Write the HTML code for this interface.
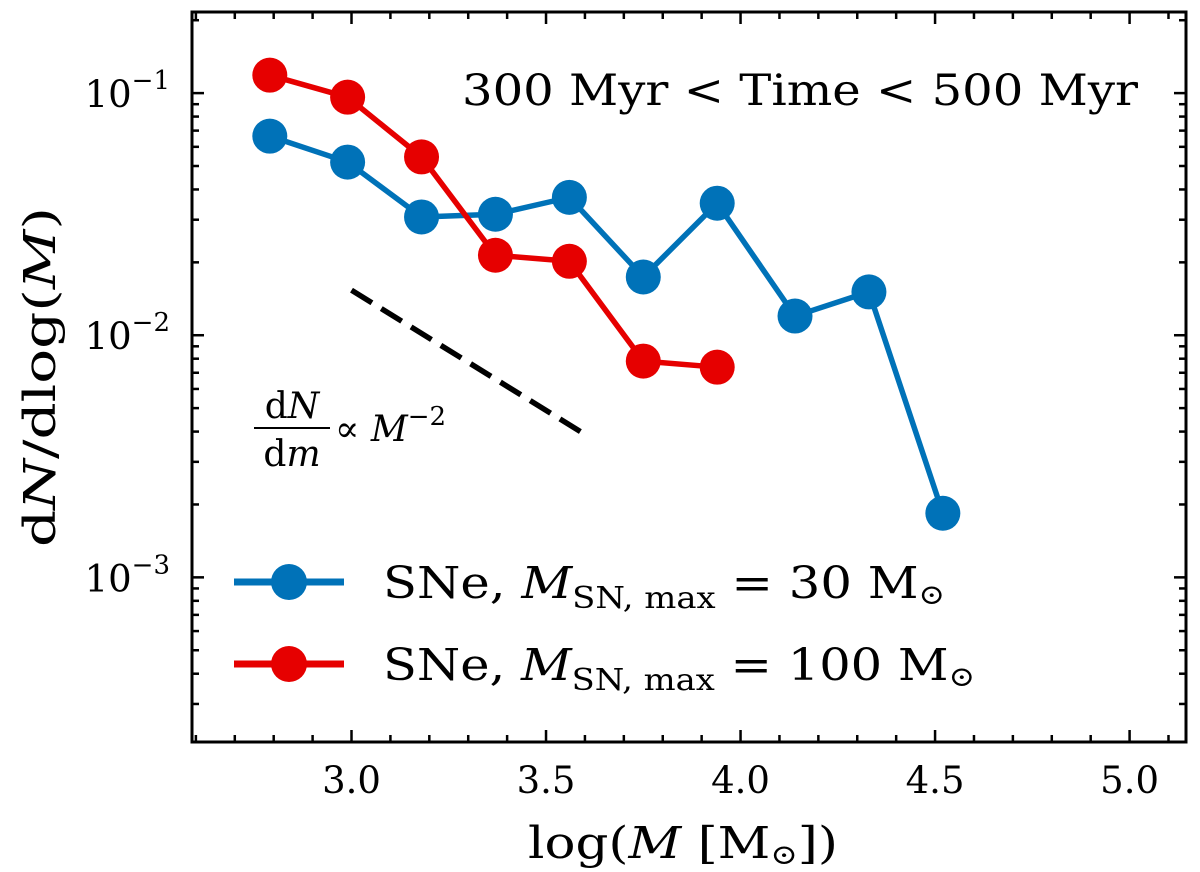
<!DOCTYPE html>
<html><head><meta charset="utf-8">
<style>
html,body{margin:0;padding:0;background:#fff;}
svg{display:block;}
text{fill:#000;}
.sr{font-family:"DejaVu Serif","Liberation Serif",serif;}
</style></head>
<body>
<svg id="chart" width="1200" height="872" viewBox="0 0 1200 872">
  <g id="marks"></g>
  <g id="axes"></g>
  <text class="sr" x="462" y="105" font-size="43" textLength="676" lengthAdjust="spacingAndGlyphs">300 Myr &lt; Time &lt; 500 Myr</text>
  <g class="sr">
    <text x="292" y="418" font-size="36" text-anchor="middle">d<tspan font-style="italic">N</tspan></text>
    <line x1="254" y1="428" x2="330" y2="428" stroke="#000" stroke-width="2"/>
    <text x="292" y="466" font-size="36" text-anchor="middle">d<tspan font-style="italic">m</tspan></text>
    <text x="335" y="441" font-size="36">∝ <tspan font-style="italic">M</tspan><tspan font-size="26" dy="-16">−2</tspan></text>
  </g>
  <g>
    <g>
      <line x1="234" y1="582" x2="344" y2="582" stroke="#0072b8" stroke-width="7"/>
      <circle cx="289" cy="582" r="18" fill="#0072b8"/>
      <text class="sr" x="383" y="598" font-size="44" textLength="562" lengthAdjust="spacingAndGlyphs">SNe, <tspan font-style="italic">M</tspan><tspan font-size="30" dy="10">SN, max</tspan><tspan dy="-10"> = 30 M<tspan font-size="28" dy="6">⊙</tspan></tspan></text>
    </g>
    <g>
      <line x1="234" y1="664" x2="344" y2="664" stroke="#e60000" stroke-width="7"/>
      <circle cx="289" cy="664" r="18" fill="#e60000"/>
      <text class="sr" x="383" y="680" font-size="44" textLength="592" lengthAdjust="spacingAndGlyphs">SNe, <tspan font-style="italic">M</tspan><tspan font-size="30" dy="10">SN, max</tspan><tspan dy="-10"> = 100 M<tspan font-size="28" dy="6">⊙</tspan></tspan></text>
    </g>
  </g>
  <text class="sr" x="528" y="858" font-size="44" textLength="310" lengthAdjust="spacingAndGlyphs">log(<tspan font-style="italic">M</tspan> [M<tspan font-size="28" dy="6">⊙</tspan><tspan dy="-6">])</tspan></text>
  <text class="sr" transform="translate(55,377) rotate(-90)" font-size="44" text-anchor="middle" textLength="340" lengthAdjust="spacingAndGlyphs">d<tspan font-style="italic">N</tspan>/dlog(<tspan font-style="italic">M</tspan>)</text>
</svg>
<script>
const xBins = [2.79,2.99,3.18,3.37,3.56,3.75,3.94,4.14,4.33,4.52];
const blueVals = [0.0664,0.0519,0.0308,0.0316,0.0371,0.0174,0.0351,0.0120,0.0151,0.00184];
const redBins = [2.79,2.99,3.18,3.37,3.56,3.75,3.94];
const redVals = [0.1186,0.0962,0.0545,0.0214,0.0202,0.00782,0.00738];
const refLineX = [3.0,3.595];
const refLineY = [0.01535,0.00394];
const xTicks = [3.0,3.5,4.0,4.5,5.0];
const xTickLabels = ["3.0","3.5","4.0","4.5","5.0"];
const yDecades = [-3,-2,-1];

const L=192,R=1186,T=12,B=742;
const X0=2.59,X1=5.145,LY0=-3.68,LY1=-0.665;
const sx=v=>L+(v-X0)/(X1-X0)*(R-L);
const sy=v=>B-(Math.log10(v)-LY0)/(LY1-LY0)*(B-T);
const NS='http://www.w3.org/2000/svg';
function mk(tag,attrs,parent){const e=document.createElementNS(NS,tag);for(const k in attrs)e.setAttribute(k,attrs[k]);parent.appendChild(e);return e;}
const marks=document.getElementById('marks'), axes=document.getElementById('axes');
const FF='DejaVu Serif, Liberation Serif, serif';

const rl=mk('line',{x1:sx(refLineX[0]),y1:sy(refLineY[0]),x2:sx(refLineX[1]),y2:sy(refLineY[1]),stroke:'#000','stroke-width':5.5,'stroke-dasharray':'24,11'},marks);



function series(xs,ys,color,name){
  const g=mk('g',{},marks);
  
  
  const p=mk('polyline',{points:xs.map((x,i)=>sx(x)+','+sy(ys[i])).join(' '),fill:'none',stroke:color,'stroke-width':5.5,'stroke-linejoin':'round'},g);
  
  
  xs.forEach((x,i)=>{
    const c=mk('circle',{cx:sx(x),cy:sy(ys[i]),r:17.5,fill:color},g);
    
    
  });
}
series(xBins,blueVals,'#0072b8','series-blue');
series(redBins,redVals,'#e60000','series-red');

const fr=mk('rect',{x:L,y:T,width:R-L,height:B-T,fill:'none',stroke:'#000','stroke-width':3},axes);


for(let k=26;k<=51;k++){
  const v=k/10;const x=sx(v);if(x<L||x>R)continue;
  const major=k%5===0;const len=major?12:7;
  mk('line',{x1:x,y1:B,x2:x,y2:B-len,stroke:'#000','stroke-width':2.5},axes);
  mk('line',{x1:x,y1:T,x2:x,y2:T+len,stroke:'#000','stroke-width':2.5},axes);
}
xTicks.forEach((v,i)=>{
  const t=mk('text',{x:sx(v),y:B+51,'text-anchor':'middle','font-family':FF,'font-size':37},axes);
  t.textContent=xTickLabels[i];
  
  
});
for(let d=-4;d<=-1;d++){
  for(let m=1;m<=9;m++){
    const v=m*Math.pow(10,d);const y=sy(v);if(y<T||y>B)continue;
    const len=m===1?12:7;
    mk('line',{x1:L,y1:y,x2:L+len,y2:y,stroke:'#000','stroke-width':2.5},axes);
    mk('line',{x1:R,y1:y,x2:R-len,y2:y,stroke:'#000','stroke-width':2.5},axes);
  }
}
yDecades.forEach(d=>{
  const y=sy(Math.pow(10,d));
  const t=mk('text',{x:170,y:y+14,'text-anchor':'end','font-family':FF,'font-size':37},axes);
  
  
  const a=mk('tspan',{},t);a.textContent='10';
  const b=mk('tspan',{dy:-18,'font-size':26},t);b.textContent='−'+(-d);
});
</script>
</body></html>
